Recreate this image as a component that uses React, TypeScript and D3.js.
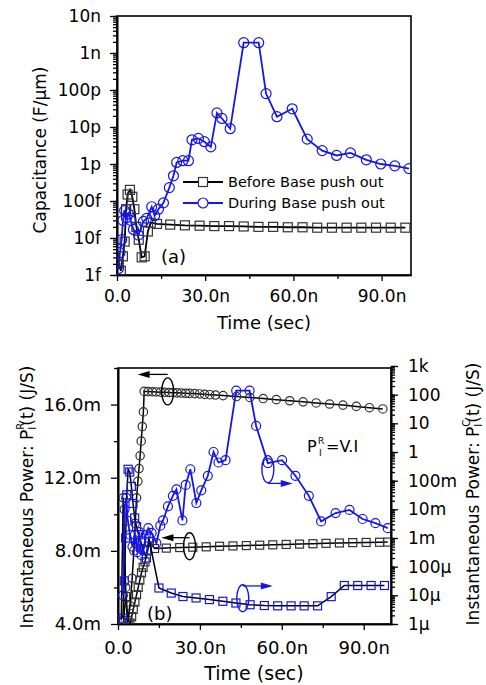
import React, { useEffect, useRef } from 'react';
import * as d3 from 'd3';

const FONT = 'DejaVu Sans, Verdana, sans-serif';
const BLUE = '#1616e8';

// shared time axis (ns)
const timeTicks = [0, 30, 60, 90];
const timeTickLabels = ['0.0', '30.0n', '60.0n', '90.0n'];
const timeMinor = [15, 45, 75];

// panel (a): capacitance (F/um)
const capTicks = [1e-15, 1e-14, 1e-13, 1e-12, 1e-11, 1e-10, 1e-9, 1e-8];
const capTickLabels = ['1f', '10f', '100f', '1p', '10p', '100p', '1n', '10n'];

const beforeT = [0.6, 1.3, 2.0, 2.6, 3.1, 3.6, 4.4, 5.2, 5.9, 6.6, 7.4, 8.4, 9.4, 10.5, 11.5, 13.6, 18.1, 23.1, 28.1, 33.1,
  38.1, 43.1, 48.1, 53.1, 58.1, 63.1, 68.1, 73.1, 78.1, 83.1, 88.1, 93.1, 98.1];
const beforeCap = [2e-15, 1.3e-15, 3.2e-15, 8e-15, 6e-14, 1.5e-13, 2e-13, 1.3e-13, 6e-14, 2e-14, 9e-15, 3e-15, 3.2e-15, 1.5e-14,
  2.6e-14, 2.4e-14, 2.3e-14, 2.2e-14, 2.15e-14, 2.1e-14, 2.1e-14, 2.05e-14, 2e-14, 2e-14, 1.95e-14, 1.95e-14, 1.9e-14,
  1.9e-14, 1.9e-14, 1.9e-14, 1.9e-14, 1.9e-14, 1.9e-14];

const duringT = [0.5, 1.0, 1.6, 2.0, 2.6, 3.2, 3.9, 4.6, 5.6, 7.3, 9.0, 10.1, 11.8, 12.8, 14.1, 15.8, 17.8, 19.2, 20.3, 22.4,
  24.3, 25.5, 27.7, 29.7, 31.9, 34.0, 35.7, 38.5, 43.1, 48.2, 50.7, 54.4, 59.6, 64.7, 69.8, 74.7, 79.4, 84.8, 89.7, 94.5, 99.3];
const duringCap = [1.5e-15, 4e-15, 9e-15, 3e-14, 5.5e-14, 3.5e-14, 4.5e-14, 3e-14, 1.7e-14, 1.2e-14, 2.8e-14, 3.4e-14, 7e-14,
  4e-14, 6e-14, 8.9e-14, 2.3e-13, 4.8e-13, 1.1e-12, 1.23e-12, 1.23e-12, 4.5e-12, 4.9e-12, 4e-12, 2.9e-12, 2.4e-11, 1.7e-11,
  9e-12, 1.9e-9, 1.9e-9, 8e-11, 1.9e-11, 3.1e-11, 4.7e-12, 2.3e-12, 1.7e-12, 2e-12, 1.3e-12, 1e-12, 8.9e-13, 7.5e-13];

// panel (b): left axis P_I^R (mJ/S), right axis P_I^C (J/S)
const pLeftTicks = [4, 8, 12, 16];
const pLeftTickLabels = ['4.0m', '8.0m', '12.0m', '16.0m'];
const pLeftMinor = [6, 10, 14, 18];
const pRightTicks = [1e-6, 1e-5, 1e-4, 1e-3, 1e-2, 1e-1, 1, 10, 100, 1000];
const pRightTickLabels = ['1µ', '10µ', '100µ', '1m', '10m', '100m', '1', '10', '100', '1k'];

const rDuringT = [1.2, 1.9, 2.8, 3.6, 4.4, 5.2, 5.8, 6.3, 6.8, 7.3, 7.7, 8.1, 8.5, 8.9, 9.3, 9.6, 11.0, 12.6, 14.0, 15.6,
  17.1, 18.7, 20.1, 21.6, 23.2, 24.8, 26.2, 28.1, 29.9, 31.7, 33.6, 35.7, 38.5, 43.4, 48.3, 53.2, 58.0, 62.9, 67.8, 72.6,
  77.5, 82.4, 87.3, 92.1, 97.0];
const rDuringMilli = [4.2, 10.9, 6.0, 4.1, 5.0, 6.5, 8.0, 9.5, 10.9, 11.8, 12.5, 13.2, 14.0, 14.8, 15.6, 16.72, 16.71, 16.70,
  16.69, 16.68, 16.67, 16.66, 16.65, 16.64, 16.63, 16.62, 16.61, 16.60, 16.58, 16.56, 16.54, 16.52, 16.49, 16.44, 16.39,
  16.33, 16.27, 16.21, 16.15, 16.09, 16.03, 15.97, 15.90, 15.83, 15.76];

const rBeforeT = [2.0, 2.8, 3.6, 4.4, 5.0, 5.6, 6.2, 6.8, 7.4, 8.0, 8.6, 9.2, 9.9, 10.7, 11.5, 13.4, 17.7, 22.6, 27.4, 32.3,
  37.2, 42.1, 47.0, 51.9, 56.7, 61.6, 66.5, 71.4, 76.2, 81.1, 86.0, 90.9, 95.8, 98.8];
const rBeforeMilli = [4.1, 5.5, 4.2, 4.05, 4.4, 4.8, 5.2, 5.6, 6.0, 6.4, 6.8, 7.1, 7.4, 8.0, 8.5, 8.13, 8.15, 8.18, 8.2, 8.22,
  8.25, 8.27, 8.29, 8.31, 8.33, 8.35, 8.37, 8.39, 8.41, 8.43, 8.45, 8.46, 8.47, 8.48];

const cBeforeT = [1.8, 2.3, 2.8, 3.2, 3.7, 4.3, 4.9, 5.5, 6.1, 6.8, 7.5, 8.3, 9.2, 10.4, 11.3, 15.0, 19.5, 23.8, 28.6, 33.5,
  38.4, 43.2, 48.4, 53.6, 58.5, 63.4, 68.2, 73.1, 78.1, 82.9, 87.8, 92.7, 97.6];
const cBefore = [1.6e-6, 3.2e-5, 1e-3, 3.2e-2, 0.25, 0.2, 6.3e-2, 1.6e-2, 5e-3, 2.5e-3, 1.3e-3, 7.9e-4, 4e-4, 2e-4, 1e-3,
  1.8e-5, 1.2e-5, 9.1e-6, 8.1e-6, 7.1e-6, 6.2e-6, 5.4e-6, 4.7e-6, 4.4e-6, 4.3e-6, 4.3e-6, 4.3e-6, 4.3e-6, 9e-6, 2.2e-5,
  2.2e-5, 2.2e-5, 2.2e-5];

const cDuringT = [1.8, 2.4, 3.0, 3.6, 4.4, 5.3, 6.2, 7.0, 7.8, 8.6, 9.4, 10.2, 11.1, 12.3, 14.05, 15.5, 16.5, 18.3, 20.1, 21.4,
  23.6, 24.8, 26.5, 28.7, 30.5, 32.9, 35.0, 36.8, 39.4, 43.3, 48.2, 50.6, 54.9, 60.1, 65.0, 69.9, 74.4, 79.7, 84.8, 89.6,
  94.3, 98.8];
const cDuring = [1e-5, 1e-2, 2.5e-2, 4e-3, 1.3e-3, 5e-4, 1.3e-3, 3.2e-4, 1.6e-3, 2.5e-4, 4e-4, 1.3e-3, 2.2e-3, 1.5e-3, 6.6e-4,
  2.7e-3, 4.1e-3, 1.26e-2, 2.95e-2, 5e-2, 4.1e-3, 7.1e-2, 0.25, 1.66e-2, 4.6e-2, 0.148, 1.0, 0.43, 0.52, 138, 138, 8.1, 0.41,
  0.52, 0.148, 2.95e-2, 3.8e-3, 7.4e-3, 9.5e-3, 4.6e-3, 3.3e-3, 2.2e-3];

function styleAxis(g: any, size: number) {
  g.attr('font-family', FONT).attr('font-size', size);
  g.selectAll('path.domain').attr('stroke-width', 1.6);
  g.selectAll('line').attr('stroke-width', 1.3);
  g.selectAll('text').attr('fill', '#000');
}

function series(g: any, xs: number[], ys: number[], x: any, y: any, o: any) {
  const pts = xs.map((t, i) => [x(t), y(ys[i])] as [number, number]);
  g.append('path')
    .attr('d', d3.line()(pts))
    .attr('fill', 'none')
    .attr('stroke', o.line)
    .attr('stroke-width', o.lw);
  if (o.shape === 'circle') {
    g.selectAll(null).data(pts).enter().append('circle')
      .attr('cx', (d: any) => d[0]).attr('cy', (d: any) => d[1]).attr('r', o.size)
      .attr('fill', 'none').attr('stroke', o.mark).attr('stroke-width', 1.2);
  } else {
    g.selectAll(null).data(pts).enter().append('rect')
      .attr('x', (d: any) => d[0] - o.size).attr('y', (d: any) => d[1] - o.size)
      .attr('width', o.size * 2).attr('height', o.size * 2)
      .attr('fill', 'none').attr('stroke', o.mark).attr('stroke-width', 1.2);
  }
}

function arrow(g: any, x1: number, x2: number, y: number, color: string) {
  const dir = x2 > x1 ? 1 : -1;
  g.append('line').attr('x1', x1).attr('x2', x2 - dir * 8).attr('y1', y).attr('y2', y)
    .attr('stroke', color).attr('stroke-width', 1.3);
  g.append('path')
    .attr('d', `M${x2},${y}L${x2 - dir * 12},${y - 3.5}L${x2 - dir * 12},${y + 3.5}Z`)
    .attr('fill', color);
}

function ellipse(g: any, cx: number, cy: number, color: string) {
  g.append('ellipse').attr('cx', cx).attr('cy', cy).attr('rx', 6).attr('ry', 13.5)
    .attr('fill', 'none').attr('stroke', color).attr('stroke-width', 1.4);
}

function powerLabel(svg: any, x: number, y: number, sup: string) {
  const t = svg.append('text')
    .attr('transform', `translate(${x},${y}) rotate(-90)`)
    .attr('text-anchor', 'middle').attr('dominant-baseline', 'central')
    .attr('font-family', FONT).attr('font-size', 17);
  t.append('tspan').text('Instantaneous Power: P');
  t.append('tspan').attr('font-size', 10).attr('dy', -7).text(sup);
  t.append('tspan').attr('font-size', 10).attr('dx', -7).attr('dy', 12).text('I');
  t.append('tspan').attr('dy', -5).attr('dx', 1).text('(t) (J/S)');
}

function Chart() {
  const ref = useRef<SVGSVGElement>(null);

  useEffect(() => {
    const svg = d3.select(ref.current);
    svg.selectAll('*').remove();

    // ---------- panel (a) ----------
    const a = { left: 117, right: 411, top: 16, bottom: 275 };
    const xA = d3.scaleLinear().domain([0, 100]).range([a.left, a.right]);
    const yA = d3.scaleLog().domain([1e-15, 1e-8]).range([a.bottom, a.top]);

    svg.append('defs').append('clipPath').attr('id', 'clipA')
      .append('rect').attr('x', a.left).attr('y', a.top)
      .attr('width', a.right - a.left).attr('height', a.bottom - a.top);

    let g = svg.append('g').attr('transform', `translate(${a.left},0)`)
      .call(d3.axisLeft(yA).tickValues(yA.ticks()).tickFormat(() => '').tickSize(4).tickSizeOuter(0));
    styleAxis(g, 17);
    g = svg.append('g').attr('transform', `translate(${a.left},0)`)
      .call(d3.axisLeft(yA).tickValues(capTicks).tickFormat((d: any, i: number) => capTickLabels[i])
        .tickSize(7).tickSizeOuter(0).tickPadding(9));
    styleAxis(g, 17);
    g = svg.append('g').attr('transform', `translate(0,${a.bottom})`)
      .call(d3.axisBottom(xA).tickValues(timeMinor).tickFormat(() => '').tickSize(4).tickSizeOuter(0));
    styleAxis(g, 17);
    g = svg.append('g').attr('transform', `translate(0,${a.bottom})`)
      .call(d3.axisBottom(xA).tickValues(timeTicks).tickFormat((d: any, i: number) => timeTickLabels[i])
        .tickSize(6).tickSizeOuter(0).tickPadding(9));
    styleAxis(g, 17);

    svg.append('rect').attr('x', a.left).attr('y', a.top)
      .attr('width', a.right - a.left).attr('height', a.bottom - a.top)
      .attr('fill', 'none').attr('stroke', '#000').attr('stroke-width', 1.6);

    const pa = svg.append('g').attr('clip-path', 'url(#clipA)');
    series(pa, beforeT, beforeCap, xA, yA, { line: '#000', mark: '#333', lw: 1.8, shape: 'square', size: 4.5 });
    series(pa, duringT, duringCap, xA, yA, { line: BLUE, mark: BLUE, lw: 1.8, shape: 'circle', size: 5 });

    // legend
    const leg = svg.append('g');
    leg.append('line').attr('x1', 183).attr('x2', 223).attr('y1', 182).attr('y2', 182)
      .attr('stroke', '#000').attr('stroke-width', 1.8);
    leg.append('rect').attr('x', 198.5).attr('y', 177.5).attr('width', 9).attr('height', 9)
      .attr('fill', '#fff').attr('stroke', '#333').attr('stroke-width', 1.2);
    leg.append('line').attr('x1', 183).attr('x2', 223).attr('y1', 203).attr('y2', 203)
      .attr('stroke', BLUE).attr('stroke-width', 1.8);
    leg.append('circle').attr('cx', 203).attr('cy', 203).attr('r', 5)
      .attr('fill', '#fff').attr('stroke', BLUE).attr('stroke-width', 1.2);
    leg.append('text').attr('x', 228).attr('y', 182).attr('dominant-baseline', 'central')
      .attr('font-family', FONT).attr('font-size', 14.5).text('Before Base push out');
    leg.append('text').attr('x', 228).attr('y', 203).attr('dominant-baseline', 'central')
      .attr('font-family', FONT).attr('font-size', 14.5).text('During Base push out');

    svg.append('text').attr('x', 161).attr('y', 256).attr('dominant-baseline', 'central')
      .attr('font-family', FONT).attr('font-size', 18).text('(a)');

    svg.append('text').attr('transform', `translate(40,150) rotate(-90)`)
      .attr('text-anchor', 'middle').attr('dominant-baseline', 'central')
      .attr('font-family', FONT).attr('font-size', 17).text('Capacitance (F/μm)');
    svg.append('text').attr('x', 264).attr('y', 322)
      .attr('text-anchor', 'middle').attr('dominant-baseline', 'central')
      .attr('font-family', FONT).attr('font-size', 18).text('Time (sec)');

    // ---------- panel (b) ----------
    const b = { left: 118, right: 391, top: 368, bottom: 624 };
    const xB = d3.scaleLinear().domain([0, 100]).range([b.left, b.right]);
    const yL = d3.scaleLinear().domain([4, 18]).range([b.bottom, b.top]);
    const yR = d3.scaleLog().domain([1e-6, 1000]).range([b.bottom, b.top - 2]);

    svg.select('defs').append('clipPath').attr('id', 'clipB')
      .append('rect').attr('x', b.left).attr('y', b.top)
      .attr('width', b.right - b.left).attr('height', b.bottom - b.top);

    g = svg.append('g').attr('transform', `translate(${b.left},0)`)
      .call(d3.axisLeft(yL).tickValues(pLeftMinor).tickFormat(() => '').tickSize(4).tickSizeOuter(0));
    styleAxis(g, 18);
    g = svg.append('g').attr('transform', `translate(${b.left},0)`)
      .call(d3.axisLeft(yL).tickValues(pLeftTicks).tickFormat((d: any, i: number) => pLeftTickLabels[i])
        .tickSize(7).tickSizeOuter(0).tickPadding(10));
    styleAxis(g, 18);
    g = svg.append('g').attr('transform', `translate(${b.right},0)`)
      .call(d3.axisRight(yR).tickValues(yR.ticks()).tickFormat(() => '').tickSize(4).tickSizeOuter(0));
    styleAxis(g, 17);
    g = svg.append('g').attr('transform', `translate(${b.right},0)`)
      .call(d3.axisRight(yR).tickValues(pRightTicks).tickFormat((d: any, i: number) => pRightTickLabels[i])
        .tickSize(7).tickSizeOuter(0).tickPadding(10));
    styleAxis(g, 17);
    g = svg.append('g').attr('transform', `translate(0,${b.bottom})`)
      .call(d3.axisBottom(xB).tickValues(timeMinor).tickFormat(() => '').tickSize(4).tickSizeOuter(0));
    styleAxis(g, 18);
    g = svg.append('g').attr('transform', `translate(0,${b.bottom})`)
      .call(d3.axisBottom(xB).tickValues(timeTicks).tickFormat((d: any, i: number) => timeTickLabels[i])
        .tickSize(6).tickSizeOuter(0).tickPadding(11));
    styleAxis(g, 18);

    svg.append('rect').attr('x', b.left).attr('y', b.top)
      .attr('width', b.right - b.left).attr('height', b.bottom - b.top)
      .attr('fill', 'none').attr('stroke', '#000').attr('stroke-width', 1.6);

    const pb = svg.append('g').attr('clip-path', 'url(#clipB)');
    series(pb, rBeforeT, rBeforeMilli, xB, yL, { line: '#000', mark: '#333', lw: 1.5, shape: 'square', size: 4 });
    series(pb, rDuringT, rDuringMilli, xB, yL, { line: '#000', mark: '#333', lw: 1.5, shape: 'circle', size: 4.2 });
    series(pb, cBeforeT, cBefore, xB, yR, { line: '#000', mark: BLUE, lw: 1.5, shape: 'square', size: 4 });
    series(pb, cDuringT, cDuring, xB, yR, { line: BLUE, mark: BLUE, lw: 1.8, shape: 'circle', size: 4.5 });

    // annotations (ellipses + arrows)
    const an = svg.append('g');
    ellipse(an, xB(18.2), yL(16.72), '#000');
    arrow(an, xB(18.2), xB(7.2), yL(17.65), '#000');
    ellipse(an, xB(26.2), yL(8.25), '#000');
    arrow(an, xB(26.2), xB(15.9), yL(8.72), '#000');
    ellipse(an, xB(54.9), yL(12.47), BLUE);
    arrow(an, xB(54.9), xB(64.0), yL(11.69), BLUE);
    ellipse(an, xB(45.7), yL(5.41), BLUE);
    arrow(an, xB(45.7), xB(56.7), yL(6.08), BLUE);

    // P_I^R = V.I, with the stacked super/subscript drawn as separate small texts
    const eqX = 307;
    const eqY = 452;
    svg.append('text').attr('x', eqX).attr('y', eqY)
      .attr('font-family', FONT).attr('font-size', 16).text('P');
    svg.append('text').attr('x', eqX + 11).attr('y', eqY - 8)
      .attr('font-family', FONT).attr('font-size', 9).text('R');
    svg.append('text').attr('x', eqX + 12).attr('y', eqY + 4)
      .attr('font-family', FONT).attr('font-size', 9).text('I');
    svg.append('text').attr('x', eqX + 19).attr('y', eqY)
      .attr('font-family', FONT).attr('font-size', 16).text('=V.I');

    svg.append('text').attr('x', 147).attr('y', 613).attr('dominant-baseline', 'central')
      .attr('font-family', FONT).attr('font-size', 18).text('(b)');

    powerLabel(svg, 27, 497, 'R');
    powerLabel(svg, 473, 494, 'C');
    svg.append('text').attr('x', 254).attr('y', 673)
      .attr('text-anchor', 'middle').attr('dominant-baseline', 'central')
      .attr('font-family', FONT).attr('font-size', 19).text('Time (sec)');
  }, []);

  return <svg ref={ref} width={486} height={685} style={{ position: 'absolute', left: 0, top: 0, background: '#fff' }} />;
}

export default function App() {
  return <Chart />;
}
